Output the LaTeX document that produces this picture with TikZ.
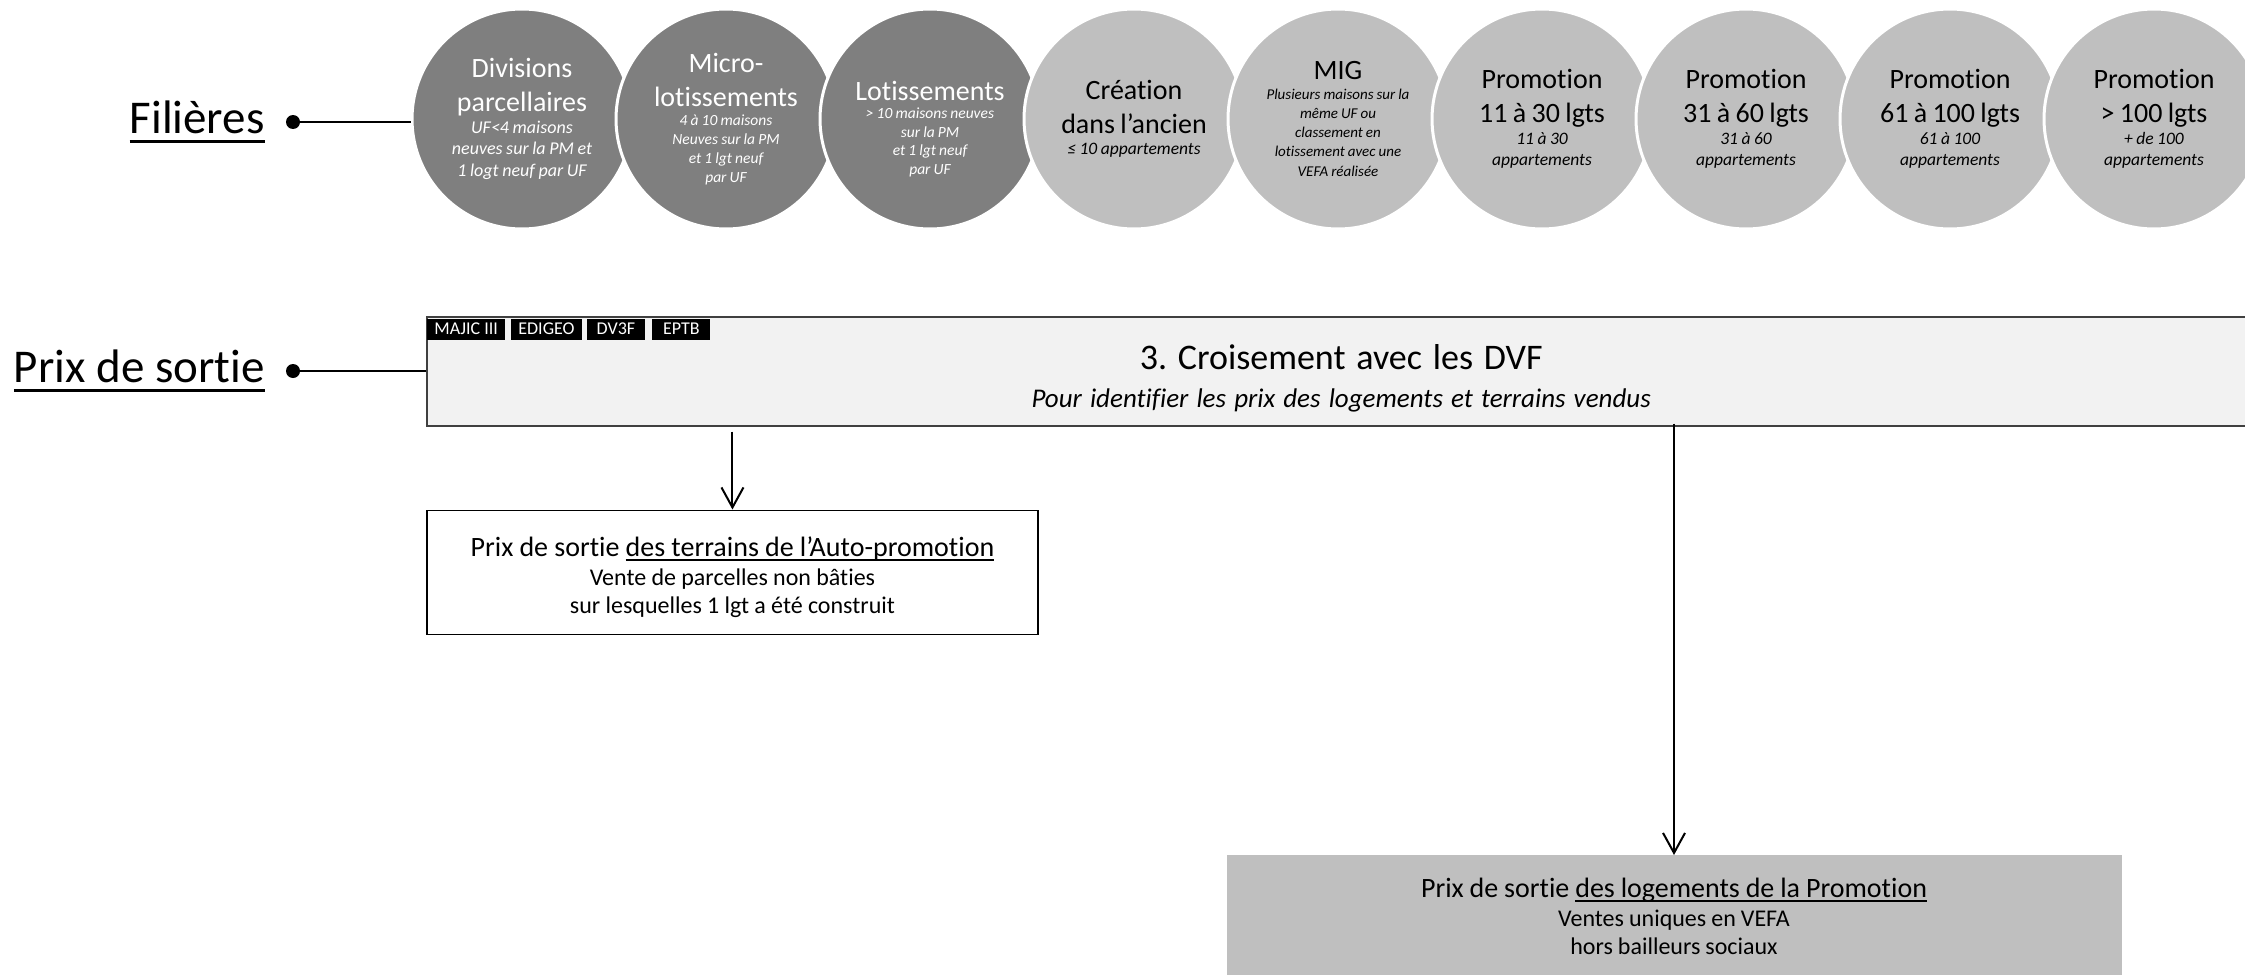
\documentclass[tikz,border=0pt]{standalone}
\usepackage{fontspec}
\setmainfont{Carlito}[Ligatures=NoCommon]
\usepackage{xcolor}
\usepackage{tikz}
\usetikzlibrary{arrows.meta,positioning}
\definecolor{circdark}{RGB}{127,127,127}
\definecolor{circlight}{RGB}{191,191,191}
\definecolor{boxpale}{RGB}{242,242,242}
\definecolor{edge}{RGB}{64,64,64}
\newcommand{\lined}[3]{\leavevmode\setbox0=\hbox{#3}\rlap{\rule[-#1]{\wd0}{#2}}\box0}
\newcommand{\wsp}[1]{\spaceskip=#1em\relax\xspaceskip=#1em\relax}
\newcommand{\ctitle}[1]{{\fontsize{28}{34}\selectfont\wsp{0.19}#1\par}}
\newcommand{\csub}[3]{{\fontsize{#1}{#2}\selectfont\itshape\wsp{0.2}#3\par}}
\tikzset{
  filiere/.style={circle,minimum size=220pt,inner sep=0pt,draw=white,line width=3pt,
    align=center,text width=160pt},
  fdark/.style={filiere,fill=circdark,text=white},
  flight/.style={filiere,fill=circlight,text=black},
  rowlabel/.style={inner sep=0pt,font=\fontsize{47}{56}\selectfont},
  dotmark/.style={circle,fill=black,inner sep=0pt,minimum size=14pt},
  link/.style={line width=2.5pt},
  flow/.style={-{Straight Barb[length=20pt,width=22pt]},line width=2pt},
  dvfbox/.style={draw=edge,line width=2pt,fill=boxpale,minimum width=1828pt,
    minimum height=109pt,align=center,text width=1700pt,inner sep=0pt},
  tag/.style={fill=black,text=white,inner xsep=7pt,inner ysep=0pt,minimum height=21pt,
    minimum width=58pt,font=\fontsize{18}{21}\selectfont},
  outbox/.style={draw=black,line width=1.5pt,fill=white,minimum width=611pt,
    minimum height=124pt,align=center,text width=580pt,inner sep=0pt},
  promobox/.style={fill=circlight,minimum width=895pt,minimum height=123pt,
    align=center,text width=860pt,inner sep=0pt},
}

\begin{document}
\begin{tikzpicture}[x=1pt,y=1pt]
  \useasboundingbox (0,0) rectangle (2245,-974);
  \clip (0,0) rectangle (2245,-974);

  \node[fdark] (divpar) at (522,-119)
    {\ctitle{Divisions\\parcellaires}\csub{18}{21.5}{UF<4 maisons\\neuves sur la PM et\\1 logt neuf par UF}};
  \node[fdark,right=-19pt of divpar] (microlot)
    {\ctitle{Micro-\\lotissements}\csub{15.5}{19}{4 à 10 maisons\\Neuves sur la PM\\et 1 lgt neuf\\par UF}};
  \node[fdark,right=-19pt of microlot] (lotis)
    {\ctitle{\rule{0pt}{39pt}Lotissements}\csub{15.5}{18.6}{> 10 maisons neuves\\sur la PM\\et 1 lgt neuf\\par UF}};
  \node[flight,right=-19pt of lotis] (ancien)
    {\ctitle{Création\\dans l’ancien}\csub{17.5}{21.5}{≤ 10 appartements}};
  \node[flight,right=-19pt of ancien] (mig)
    {\ctitle{MIG}\csub{15}{19.3}{Plusieurs maisons sur la\\même UF ou\\classement en\\lotissement avec une\\VEFA réalisée}};
  \node[flight,right=-19pt of mig] (promoA)
    {\ctitle{Promotion\\11 à 30 lgts}\csub{17.5}{21.5}{11 à 30\\appartements}};
  \node[flight,right=-19pt of promoA] (promoB)
    {\ctitle{Promotion\\31 à 60 lgts}\csub{17.5}{21.5}{31 à 60\\appartements}};
  \node[flight,right=-19pt of promoB] (promoC)
    {\ctitle{Promotion\\61 à 100 lgts}\csub{17.5}{21.5}{61 à 100\\appartements}};
  \node[flight,right=-19pt of promoC] (promoD)
    {\ctitle{Promotion\\> 100 lgts}\csub{17.5}{21.5}{+ de 100\\appartements}};

  \node[dotmark] (dotfil) at (293,-122) {};
  \node[rowlabel,left=21pt of dotfil] (fil) {\lined{9pt}{2.5pt}{Filières}};

  \node[dotmark] (dotprix) at (293,-371) {};
  \node[rowlabel,left=21pt of dotprix] (prix) {\lined{9pt}{2.5pt}{Prix de sortie}};

  \node[dvfbox,right=126pt of dotprix] (dvf)
    {{\fontsize{36}{40}\selectfont\wsp{0.3}\rule{0pt}{39pt}3. Croisement avec les DVF\par}{\fontsize{27}{38}\selectfont\itshape\wsp{0.3}Pour identifier les prix des logements et terrains vendus\par}};
  \node[tag,below right=3pt and 1pt of dvf.north west] (majic) {MAJIC III};
  \node[tag,right=6pt of majic] (edigeo) {EDIGEO};
  \node[tag,right=5pt of edigeo] (dvtf) {DV3F};
  \node[tag,right=7pt of dvtf] (eptb) {EPTB};

  \node[outbox,below right=83pt and 0pt of dvf.south west] (auto)
    {{\fontsize{28}{30}\selectfont\wsp{0.22}\rule{0pt}{30pt}Prix de sortie \lined{4pt}{1.5pt}{des terrains de l’Auto-promotion}\par}{\fontsize{24}{28.5}\selectfont\wsp{0.22}Vente de parcelles non bâties\\sur lesquelles 1 lgt a été construit\par}};
  \node[promobox,anchor=north] (promo) at (1674,-855)
    {{\fontsize{28}{30}\selectfont\wsp{0.21}Prix de sortie \lined{4pt}{1.5pt}{des logements de la Promotion}\par}{\fontsize{24}{28.5}\selectfont\wsp{0.21}Ventes uniques en VEFA\\hors bailleurs sociaux\par}};

  \draw[link] (dotfil) -- (dotfil -| divpar.west);
  \draw[link] (dotprix) -- (dvf);
  \draw[flow,shorten <=5pt] (dvf.south -| auto.north) -- (auto.north);
  \draw[flow,shorten <=-3pt] (dvf.south -| promo.north) -- (promo.north);
\end{tikzpicture}
\end{document}
